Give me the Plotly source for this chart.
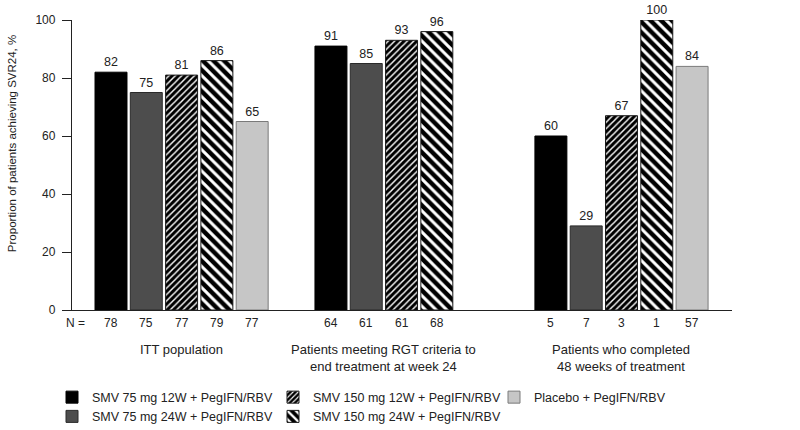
import plotly.graph_objects as go

# ---------------- data ----------------
groups = [
    "ITT population",
    "Patients meeting RGT criteria to<br>end treatment at week 24",
    "Patients who completed<br>48 weeks of treatment",
]
series_names = [
    "SMV 75 mg 12W + PegIFN/RBV",
    "SMV 75 mg 24W + PegIFN/RBV",
    "SMV 150 mg 12W + PegIFN/RBV",
    "SMV 150 mg 24W + PegIFN/RBV",
    "Placebo + PegIFN/RBV",
]
smv75_12w = [82, 91, 60]
smv75_24w = [75, 85, 29]
smv150_12w = [81, 93, 67]
smv150_24w = [86, 96, 100]
placebo = [65, None, 84]

n_smv75_12w = [78, 64, 5]
n_smv75_24w = [75, 61, 7]
n_smv150_12w = [77, 61, 3]
n_smv150_24w = [79, 68, 1]
n_placebo = [77, None, 57]

y_ticks = [0, 20, 40, 60, 80, 100]
y_title = "Proportion of patients achieving SVR24, %"
n_prefix = "N ="

# ---------------- layout / style ----------------
GROUP_START = [1.105, 7.337, 13.569]   # x-axis slot where each group's first bar sits
X_RANGE = [0, 18.70]
BAR_WIDTH = 0.906

values = [smv75_12w, smv75_24w, smv150_12w, smv150_24w, placebo]
counts = [n_smv75_12w, n_smv75_24w, n_smv150_12w, n_smv150_24w, n_placebo]
legend_rank = [1, 4, 2, 5, 3]

styles = [
    dict(color="#000000", marker_line=dict(color="#000000", width=1)),
    dict(color="#4d4d4d", marker_line=dict(color="#2a2a2a", width=1)),
    dict(color="#000000", marker_line=dict(color="#1a1a1a", width=1),
         pattern=dict(shape="/", bgcolor="#000000", fgcolor="#ffffff",
                      fgopacity=1, size=4.5, solidity=0.32, fillmode="replace")),
    dict(color="#000000", marker_line=dict(color="#1a1a1a", width=1),
         pattern=dict(shape="\\", bgcolor="#000000", fgcolor="#ffffff",
                      fgopacity=1, size=7.5, solidity=0.40, fillmode="replace")),
    dict(color="#c6c6c6", marker_line=dict(color="#7a7a7a", width=1)),
]

FONT = "Liberation Sans, Arial, Helvetica, sans-serif"
TEXT_COLOR = "#222222"

fig = go.Figure()
annotations = []

for si, (name, vals, ns, st) in enumerate(zip(series_names, values, counts, styles)):
    xs, ys, ts = [], [], []
    for gi, v in enumerate(vals):
        if v is None:
            continue
        x = GROUP_START[gi] + si
        xs.append(x)
        ys.append(v)
        ts.append(str(v))
        annotations.append(dict(
            x=x, xref="x", y=-0.0448, yref="paper", yanchor="middle",
            text=str(ns[gi]), showarrow=False,
            font=dict(size=12, color=TEXT_COLOR, family=FONT),
        ))
    marker = dict(color=st["color"], line=st["marker_line"])
    if "pattern" in st:
        marker["pattern"] = st["pattern"]
    fig.add_trace(go.Bar(
        x=xs, y=ys, name=name, width=BAR_WIDTH,
        marker=marker,
        text=ts, textposition="outside",
        textfont=dict(size=12.5, color=TEXT_COLOR, family=FONT),
        cliponaxis=False,
        legendrank=legend_rank[si],
        hoverinfo="x+y+name",
    ))

# group labels centered under each group
for gi, g in enumerate(groups):
    xs = [GROUP_START[gi] + si for si, vals in enumerate(values) if vals[gi] is not None]
    annotations.append(dict(
        x=sum(xs) / len(xs), xref="x", y=-0.104, yref="paper", yanchor="top",
        text=g, showarrow=False, align="center",
        font=dict(size=13, color=TEXT_COLOR, family=FONT),
    ))

# "N =" label
annotations.append(dict(
    x=0.0227, xref="paper", xanchor="right", y=-0.0448, yref="paper", yanchor="middle",
    text=n_prefix, showarrow=False, font=dict(size=12, color=TEXT_COLOR, family=FONT),
))

# y-axis title
annotations.append(dict(
    x=-0.0909, xref="paper", xanchor="center", y=0.572, yref="paper", yanchor="middle",
    text=y_title, textangle=-90, showarrow=False,
    font=dict(size=11.5, color=TEXT_COLOR, family=FONT),
))

fig.update_layout(
    width=800, height=430,
    margin=dict(l=72, r=68, t=20, b=120, autoexpand=False),
    paper_bgcolor="white", plot_bgcolor="white",
    font=dict(family=FONT, color=TEXT_COLOR, size=12),
    barmode="overlay",
    showlegend=True,
    legend=dict(
        orientation="h", x=-0.0303, xanchor="left", y=-0.25, yanchor="top",
        entrywidth=176, font=dict(size=12.5, color=TEXT_COLOR, family=FONT),
        bgcolor="rgba(0,0,0,0)", traceorder="normal",
    ),
    annotations=annotations,
    xaxis=dict(
        range=X_RANGE, showline=True, linecolor="#222222", linewidth=1.3,
        showticklabels=False, ticks="", showgrid=False, zeroline=False, fixedrange=True,
    ),
    yaxis=dict(
        range=[0, 100], tickvals=y_ticks, showline=True, linecolor="#222222", linewidth=1.3,
        ticks="outside", ticklen=9, tickwidth=1.3, tickcolor="#222222",
        ticklabelstandoff=4,
        tickfont=dict(size=12, color=TEXT_COLOR, family=FONT),
        showgrid=False, zeroline=False, fixedrange=True,
    ),
)

fig.write_html(
    "out.html",
    config={"displayModeBar": False},
    post_script="document.body.style.margin='0';document.body.style.overflow='hidden';",
)
